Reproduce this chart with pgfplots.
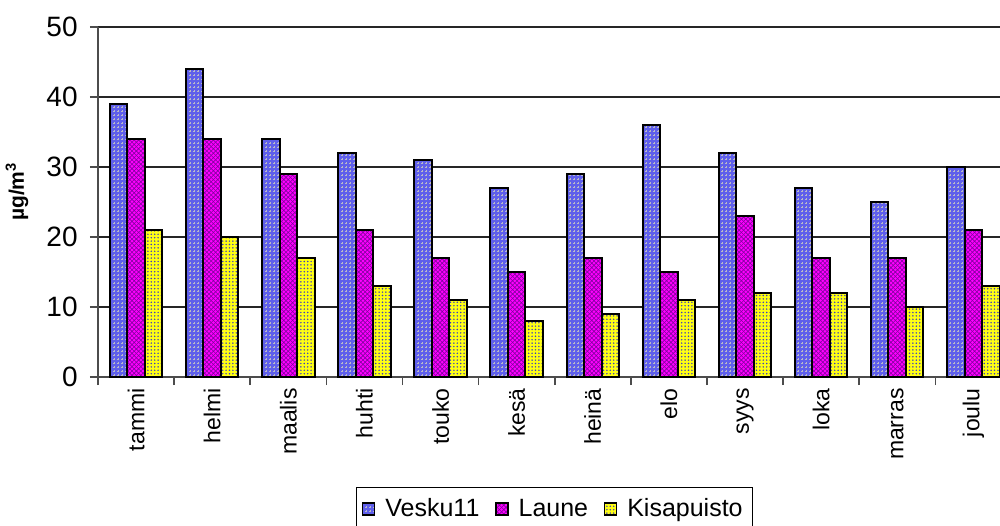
\documentclass[border=0pt]{standalone}
\usepackage{pgfplots}
\pgfplotsset{compat=1.18}
\usepackage{fontspec}
\setmainfont{Liberation Sans}
\usetikzlibrary{patterns}
\definecolor{veskufill}{RGB}{95,95,235}
\definecolor{veskupat}{RGB}{185,185,200}
\definecolor{launefill}{RGB}{255,0,255}
\definecolor{launepat}{RGB}{130,0,160}
\definecolor{kisafill}{RGB}{255,255,20}
\definecolor{kisapat}{RGB}{60,60,190}
\pgfdeclarepatternformonly{smallplus}{\pgfqpoint{-0.5pt}{-0.5pt}}{\pgfqpoint{2.5pt}{2.5pt}}{\pgfqpoint{2pt}{2pt}}{
  \pgfsetlinewidth{0.45pt}
  \pgfpathmoveto{\pgfqpoint{0.4pt}{1pt}}\pgfpathlineto{\pgfqpoint{1.6pt}{1pt}}
  \pgfpathmoveto{\pgfqpoint{1pt}{0.4pt}}\pgfpathlineto{\pgfqpoint{1pt}{1.6pt}}
  \pgfusepath{stroke}}
\pgfdeclarepatternformonly{smallcross}{\pgfqpoint{-0.5pt}{-0.5pt}}{\pgfqpoint{2.5pt}{2.5pt}}{\pgfqpoint{2.2pt}{2.2pt}}{
  \pgfsetlinewidth{0.3pt}
  \pgfpathmoveto{\pgfqpoint{0pt}{0pt}}\pgfpathlineto{\pgfqpoint{2.2pt}{2.2pt}}
  \pgfpathmoveto{\pgfqpoint{0pt}{2.2pt}}\pgfpathlineto{\pgfqpoint{2.2pt}{0pt}}
  \pgfusepath{stroke}}
\pgfdeclarepatternformonly{smalldots}{\pgfqpoint{-0.5pt}{-0.5pt}}{\pgfqpoint{2.2pt}{2.2pt}}{\pgfqpoint{1.7pt}{1.7pt}}{
  \pgfpathcircle{\pgfqpoint{0.85pt}{0.85pt}}{0.42pt}
  \pgfusepath{fill}}
\pgfplotsset{
  mylegend/.style={legend image code/.code={\draw[##1, line width=0.6pt] (0pt,-3pt) rectangle (6pt,3pt);}}
}
\begin{document}
\begin{tikzpicture}
\begin{axis}[
  at={(0,0)}, anchor=south west,
  scale only axis, width=451pt, height=175pt,
  xmin=-0.5, xmax=11.35, ymin=0, ymax=50,
  ybar=0pt, bar width=8.75pt,
  axis x line*=bottom, axis y line*=left,
  axis line style={black!70, line width=0.8pt},
  ytick={0,10,...,50}, ymajorgrids,
  grid style={black!85, line width=0.65pt},
  xtick={-0.5,0.5,...,10.5}, xticklabels={},
  extra x ticks={0,...,11},
  extra x tick labels={tammi,helmi,maalis,huhti,touko,kesä,heinä,elo,syys,loka,marras,joulu},
  extra x tick style={major tick length=0pt, grid=none,
    xticklabel style={rotate=90, anchor=east, inner sep=0pt,
    font=\fontsize{11.5}{13}\selectfont}},
  xticklabel shift=5.5pt,
  tick align=outside, major tick length=4pt,
  tick style={black!70, line width=0.8pt},
  yticklabel style={font=\fontsize{14}{16}\selectfont, inner sep=0pt},
  yticklabel shift=6pt,
  /pgf/number format/assume math mode=true,
  ylabel={µg/m\textsuperscript{3}},
  ylabel style={at={(axis description cs:-0.0898,0.53)}, anchor=center, font=\fontsize{10.5}{12}\selectfont\bfseries},
  legend style={at={(0.506,-0.314)}, anchor=north, draw=black, line width=0.5pt,
    font=\fontsize{12.5}{15}\selectfont, legend columns=-1,
    inner xsep=3pt, inner ysep=3.5pt,
    /tikz/every odd column/.append style={column sep=3pt},
    /tikz/every even column/.append style={column sep=6pt}},
]
\addplot[mylegend, draw=black, line width=1pt, fill=veskufill,
  postaction={pattern=smallplus, pattern color=veskupat}]
  coordinates {(0,39) (1,44) (2,34) (3,32) (4,31) (5,27) (6,29) (7,36) (8,32) (9,27) (10,25) (11,30)};
\addplot[mylegend, draw=black, line width=1pt, fill=launefill,
  postaction={pattern=smallcross, pattern color=launepat}]
  coordinates {(0,34) (1,34) (2,29) (3,21) (4,17) (5,15) (6,17) (7,15) (8,23) (9,17) (10,17) (11,21)};
\addplot[mylegend, draw=black, line width=1pt, fill=kisafill,
  postaction={pattern=smalldots, pattern color=kisapat}]
  coordinates {(0,21) (1,20) (2,17) (3,13) (4,11) (5,8) (6,9) (7,11) (8,12) (9,12) (10,10) (11,13)};
\legend{Vesku11,Laune,Kisapuisto}
\end{axis}
\pgfresetboundingbox
\useasboundingbox (-49pt,-74pt) rectangle (451pt,188.5pt);
\end{tikzpicture}
\end{document}
